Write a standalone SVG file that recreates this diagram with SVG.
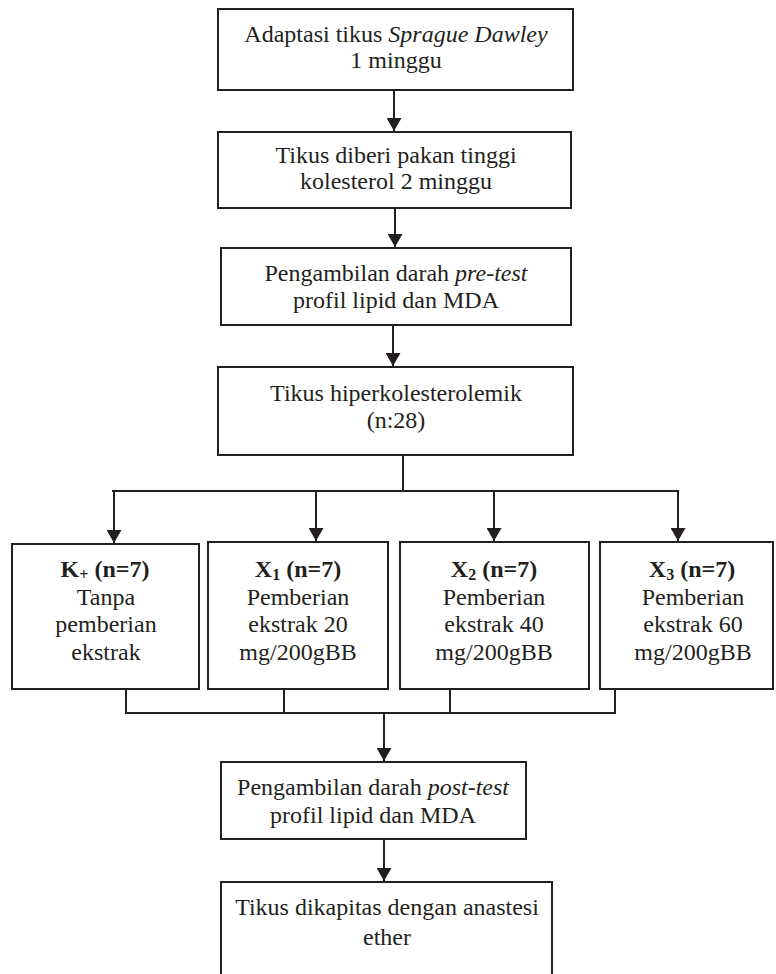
<svg xmlns="http://www.w3.org/2000/svg" width="776" height="974" viewBox="0 0 776 974">
<style>
.box{fill:#fff;stroke:#231f20;stroke-width:2}
.ln{fill:none;stroke:#231f20;stroke-width:2}
.t{font-family:'Liberation Serif','Times New Roman',serif;font-size:24px;fill:#231f20;text-anchor:middle}
.b{font-weight:bold}
.i{font-style:italic}
.sub{font-size:16px}
</style>
<defs>
<marker id="ah" markerWidth="13" markerHeight="15" refX="13" refY="7.5" orient="auto" markerUnits="userSpaceOnUse">
<path d="M0,0 L13,7.5 L0,15 Z" fill="#231f20"/>
</marker>
</defs>
<rect width="776" height="974" fill="#fff"/>
<g id="connectors">
<line class="ln" x1="394" y1="90" x2="394" y2="131" marker-end="url(#ah)"/>
<line class="ln" x1="395" y1="208" x2="395" y2="247" marker-end="url(#ah)"/>
<line class="ln" x1="393" y1="325" x2="393" y2="366" marker-end="url(#ah)"/>
<polyline class="ln" points="403,455 403,492"/>
<line class="ln" x1="112" y1="491" x2="679" y2="491"/>
<line class="ln" x1="114" y1="491" x2="114" y2="543" marker-end="url(#ah)"/>
<line class="ln" x1="316" y1="491" x2="316" y2="541" marker-end="url(#ah)"/>
<line class="ln" x1="494" y1="491" x2="494" y2="541" marker-end="url(#ah)"/>
<line class="ln" x1="678" y1="491" x2="678" y2="541" marker-end="url(#ah)"/>
<polyline class="ln" points="126,684 126,713 615,713 615,684"/>
<line class="ln" x1="284" y1="684" x2="284" y2="713"/>
<line class="ln" x1="450" y1="684" x2="450" y2="713"/>
<line class="ln" x1="384" y1="713" x2="384" y2="761" marker-end="url(#ah)"/>
<line class="ln" x1="384" y1="839" x2="384" y2="881" marker-end="url(#ah)"/>
</g>
<g id="n1">
<rect class="box" x="218" y="9" width="355" height="81"/>
<text class="t" x="396" y="42">Adaptasi tikus <tspan class="i">Sprague Dawley</tspan></text>
<text class="t" x="396" y="68">1 minggu</text>
</g>
<g id="n2">
<rect class="box" x="218" y="132" width="353" height="76"/>
<text class="t" x="396" y="163">Tikus diberi pakan tinggi</text>
<text class="t" x="396" y="189">kolesterol 2 minggu</text>
</g>
<g id="n3">
<rect class="box" x="221" y="248" width="350" height="77"/>
<text class="t" x="396" y="281">Pengambilan darah <tspan class="i">pre-test</tspan></text>
<text class="t" x="396" y="308">profil lipid dan MDA</text>
</g>
<g id="n4">
<rect class="box" x="218" y="367" width="355" height="88"/>
<text class="t" x="396" y="401">Tikus hiperkolesterolemik</text>
<text class="t" x="396" y="428">(n:28)</text>
</g>
<g id="k">
<rect class="box" x="12" y="544" width="187" height="145"/>
<text class="t b" x="105" y="577">K<tspan class="sub" dy="3">+</tspan><tspan dy="-3"> (n=7)</tspan></text>
<text class="t" x="106" y="605">Tanpa</text>
<text class="t" x="106" y="632">pemberian</text>
<text class="t" x="106" y="660">ekstrak</text>
</g>
<g id="x1">
<rect class="box" x="208" y="542" width="180" height="147"/>
<text class="t b" x="298" y="577">X<tspan class="sub" dy="3">1</tspan><tspan dy="-3"> (n=7)</tspan></text>
<text class="t" x="298" y="605">Pemberian</text>
<text class="t" x="298" y="632">ekstrak 20</text>
<text class="t" x="298" y="660">mg/200gBB</text>
</g>
<g id="x2">
<rect class="box" x="400" y="542" width="189" height="147"/>
<text class="t b" x="494" y="577">X<tspan class="sub" dy="3">2</tspan><tspan dy="-3"> (n=7)</tspan></text>
<text class="t" x="494" y="605">Pemberian</text>
<text class="t" x="494" y="632">ekstrak 40</text>
<text class="t" x="494" y="660">mg/200gBB</text>
</g>
<g id="x3">
<rect class="box" x="600" y="542" width="173" height="147"/>
<text class="t b" x="692" y="577">X<tspan class="sub" dy="3">3</tspan><tspan dy="-3"> (n=7)</tspan></text>
<text class="t" x="693" y="605">Pemberian</text>
<text class="t" x="693" y="632">ekstrak 60</text>
<text class="t" x="693" y="660">mg/200gBB</text>
</g>
<g id="n5">
<rect class="box" x="221" y="762" width="305" height="77"/>
<text class="t" x="373" y="795">Pengambilan darah <tspan class="i">post-test</tspan></text>
<text class="t" x="373" y="823">profil lipid dan MDA</text>
</g>
<g id="n6">
<rect class="box" x="221" y="882" width="331" height="100"/>
<text class="t" x="387" y="915">Tikus dikapitas dengan anastesi</text>
<text class="t" x="387" y="945">ether</text>
</g>
</svg>
